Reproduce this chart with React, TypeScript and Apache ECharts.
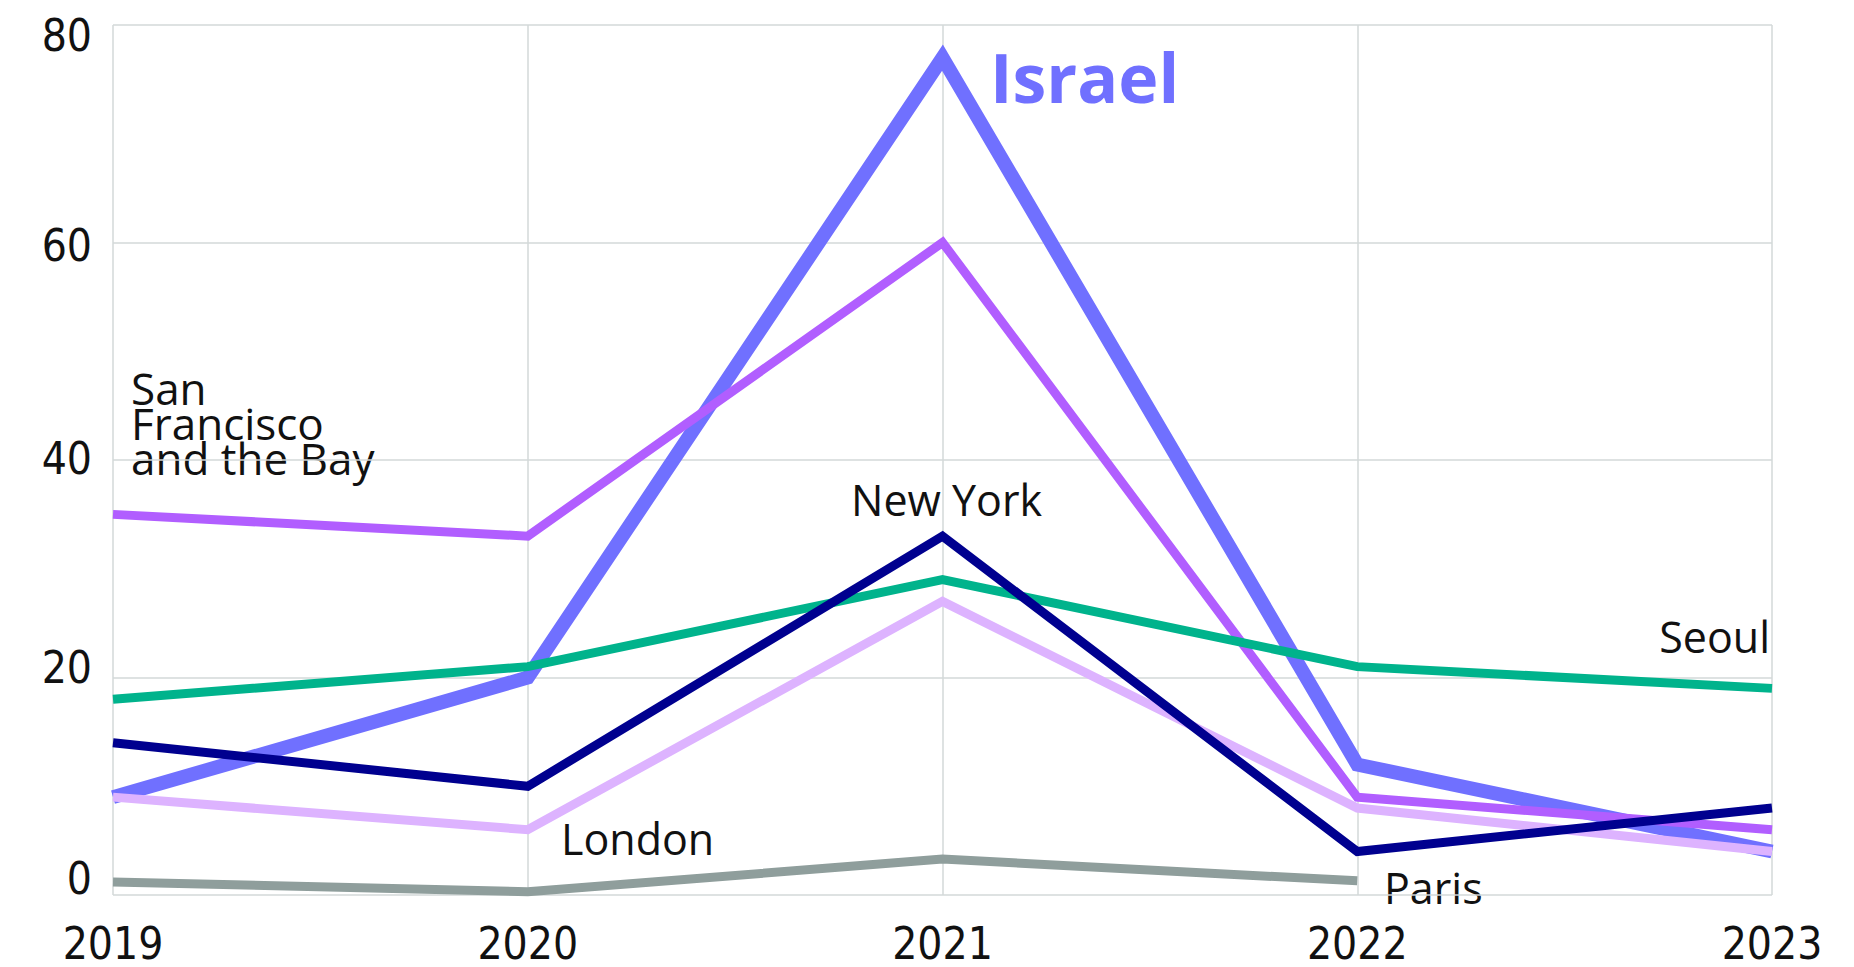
import React, { useEffect, useRef } from "react";
import * as echarts from "echarts";

const years = ["2019", "2020", "2021", "2022", "2023"];
const israel = [9, 20, 77, 12, 4];
const sanFrancisco = [35, 33, 60, 9, 6];
const london = [9, 6, 27, 8, 4];
const seoul = [18, 21, 29, 21, 19];
const newYork = [14, 10, 33, 4, 8];
const paris = [1.2, 0.3, 3.3, 1.3, null];

const yTicks = { min: 0, max: 80, interval: 20 };

export default function App() {
  const ref = useRef<HTMLDivElement>(null);
  useEffect(() => {
    document.body.style.margin = "0";
    const chart = echarts.init(ref.current!, null, { renderer: "svg" });
    const grid = "#D3D9D9";
    const labelFont = "'Liberation Sans Narrow', 'DejaVu Sans Condensed', sans-serif";
    const textFont = "'Open Sans', sans-serif";
    const mk = (name: string, data: (number | null)[], color: string, width: number, z: number) => ({
      name,
      type: "line",
      data,
      symbol: "none",
      z,
      connectNulls: false,
      lineStyle: { color, width, cap: "butt", join: "miter" },
      itemStyle: { color },
      emphasis: { disabled: true },
    });
    const yl = { color: "#111", fontFamily: labelFont, fontSize: 44 };
    chart.setOption({
      animation: false,
      grid: { left: 113, right: 82, top: 25, bottom: 72 },
      xAxis: {
        type: "category",
        data: years,
        boundaryGap: false,
        axisLine: { show: false },
        axisTick: { show: false },
        splitLine: { show: true, lineStyle: { color: grid, width: 1.5 } },
        axisLabel: {
          color: "#111",
          fontFamily: labelFont,
          fontSize: 44,
          margin: 48,
          verticalAlign: "middle",
        },
      },
      yAxis: {
        type: "value",
        min: yTicks.min,
        max: yTicks.max,
        interval: yTicks.interval,
        axisLine: { show: false },
        axisTick: { show: false },
        splitLine: { show: true, lineStyle: { color: grid, width: 1.5 } },
        axisLabel: {
          color: "#111",
          fontFamily: labelFont,
          fontSize: 44,
          margin: 21,
          formatter: (v: number) => `{v${v}|${v}}`,
          rich: {
            v0: { ...yl, padding: [0, 0, 34, 0] },
            v20: { ...yl, padding: [0, 0, 20, 0] },
            v40: { ...yl, padding: [0, 0, 4, 0] },
            v60: { ...yl, padding: [6, 0, 0, 0] },
            v80: { ...yl, padding: [20, 0, 0, 0] },
          },
        },
      },
      series: [
        mk("Israel", israel, "#7070FF", 14, 2),
        mk("San Francisco and the Bay", sanFrancisco, "#B15EFF", 9, 3),
        mk("London", london, "#DDB3FF", 9, 4),
        mk("Seoul", seoul, "#00B38C", 9, 5),
        mk("New York", newYork, "#00008F", 9, 6),
        mk("Paris", paris, "#8F9E9C", 9, 7),
      ],
      graphic: [
        {
          type: "text",
          x: 990,
          y: 76,
          style: {
            text: "Israel",
            fill: "#7070FF",
            font: `bold 68px ${textFont}`,
            verticalAlign: "middle",
            align: "left",
          },
        },
        {
          type: "text",
          x: 131,
          y: 423,
          style: {
            text: "San\nFrancisco\nand the Bay",
            fill: "#111",
            font: `44px ${textFont}`,
            lineHeight: 35,
            verticalAlign: "middle",
            align: "left",
          },
        },
        {
          type: "text",
          x: 851,
          y: 499,
          style: { text: "New York", fill: "#111", font: `43px ${textFont}`, verticalAlign: "middle", align: "left" },
        },
        {
          type: "text",
          x: 1770,
          y: 636,
          style: { text: "Seoul", fill: "#111", font: `43px ${textFont}`, verticalAlign: "middle", align: "right" },
        },
        {
          type: "text",
          x: 561,
          y: 838,
          style: { text: "London", fill: "#111", font: `43px ${textFont}`, verticalAlign: "middle", align: "left" },
        },
        {
          type: "text",
          x: 1384,
          y: 887,
          style: { text: "Paris", fill: "#111", font: `43px ${textFont}`, verticalAlign: "middle", align: "left" },
        },
      ],
    });
    return () => chart.dispose();
  }, []);
  return <div ref={ref} style={{ width: 1854, height: 967 }} />;
}
